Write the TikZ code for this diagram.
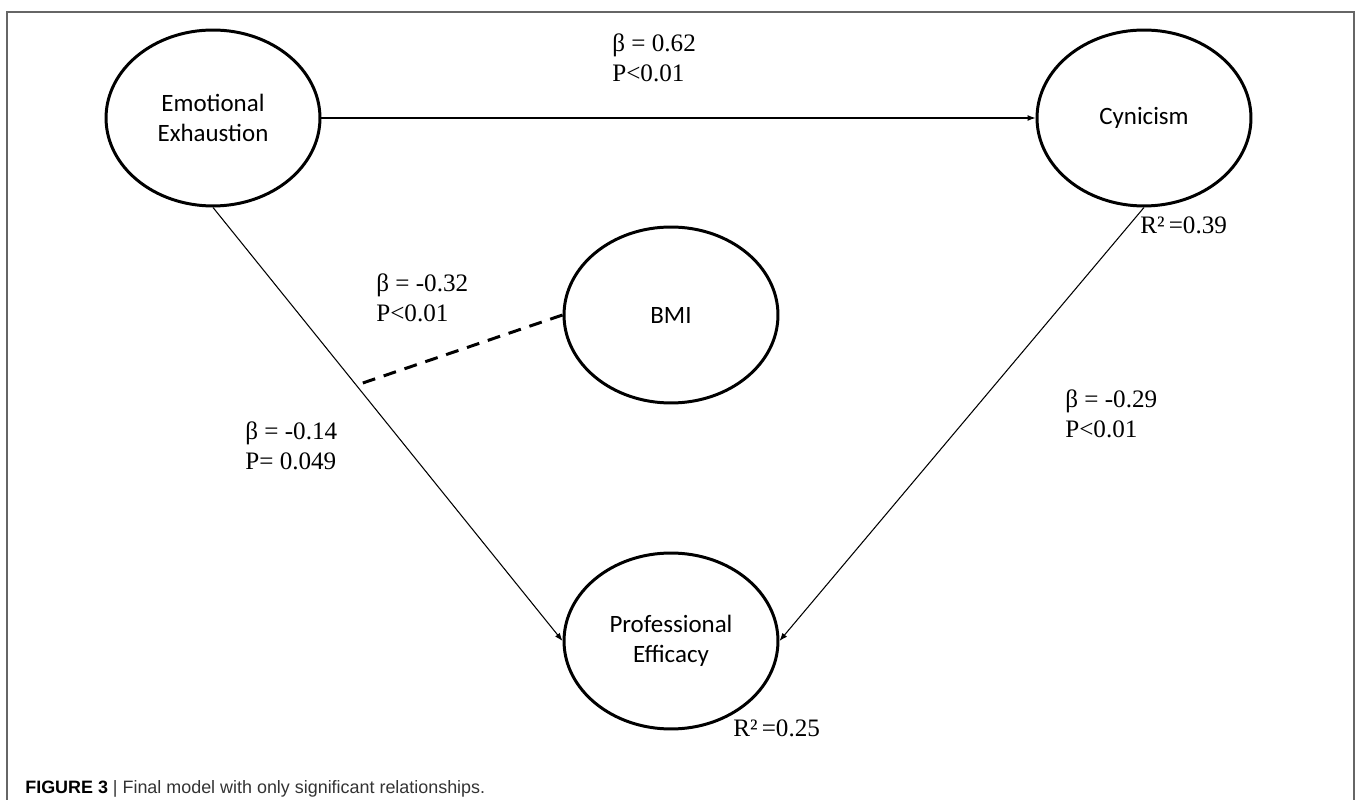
\documentclass[tikz,border=0pt]{standalone}
\usepackage{fontspec}
\setmainfont{Liberation Serif}
\newfontfamily\calfont{Carlito}
\newfontfamily\capfont{Liberation Sans}
\usetikzlibrary{shapes, arrows.meta, calc, positioning}
\tikzset{
    -Latex, thin,
    LV/.style = {ellipse, draw, line width=1.7pt, minimum width=4.28cm,
                 minimum height=3.52cm, inner sep=0pt, align=center,
                 font=\calfont\fontsize{14.2}{17}\selectfont}, % latent variable
    EL/.style = {anchor=west, align=left, inner sep=0pt,
                 font=\fontsize{14.3}{17}\selectfont}, % edge label
    RL/.style = {anchor=west, inner sep=0pt,
                 font=\fontsize{14.3}{17}\selectfont}, % R squared
    path/.style = {line width=0.6pt, -{Latex[length=1.6mm, width=1.2mm]}},
    mod/.style = {line width=1.7pt, dash pattern=on 0.26cm off 0.18cm, -} % moderation
}
\begin{document}
\begin{tikzpicture}[x=0.02cm, y=-0.02cm]
  \useasboundingbox (0,0) rectangle (1357,800);
  % frame
  \draw[black!60, line width=0.8pt, -] (7,800) -- (7,12) -- (1354,12) -- (1354,800);
  % latent variables
  \node [LV] (EE)  at (213,118) {Emotional\\Exhaustion};
  \node [LV] (Cyn) at (1144,118) {Cynicism};
  \node [LV] (BMI) at (671,315) {BMI};
  \node [LV] (PE)  at (671,641) {Professional\\Efficacy};
  % paths
  \draw [path] (EE.east) -- (Cyn.west);
  \draw [path] (EE.south) -- (PE.west);
  \draw [path] (Cyn.south) -- (PE.east);
  \coordinate (mid) at ($(EE.south)!0.41!(PE.west)$);
  \draw [mod] (BMI.west) -- (mid);
  % labels
  \node [EL] (lEC) at (612,58)   {β = 0.62\\P<0.01};
  \node [EL] (lBM) at (376,298)  {β = -0.32\\P<0.01};
  \node [EL] (lEP) at (245,446)  {β = -0.14\\P= 0.049};
  \node [EL] (lCP) at (1065,414) {β = -0.29\\P<0.01};
  \node [RL] (rC)  at (1140,225) {R²\,=0.39};
  \node [RL] (rP)  at (733,728)  {R²\,=0.25};
  % caption
  \node [anchor=west, inner sep=0pt, font=\capfont\fontsize{10.2}{12}\selectfont,
         text=black!80] (cap) at (25,789)
        {\textbf{\color{black}FIGURE 3} | Final model with only significant relationships.};
\end{tikzpicture}
\end{document}
